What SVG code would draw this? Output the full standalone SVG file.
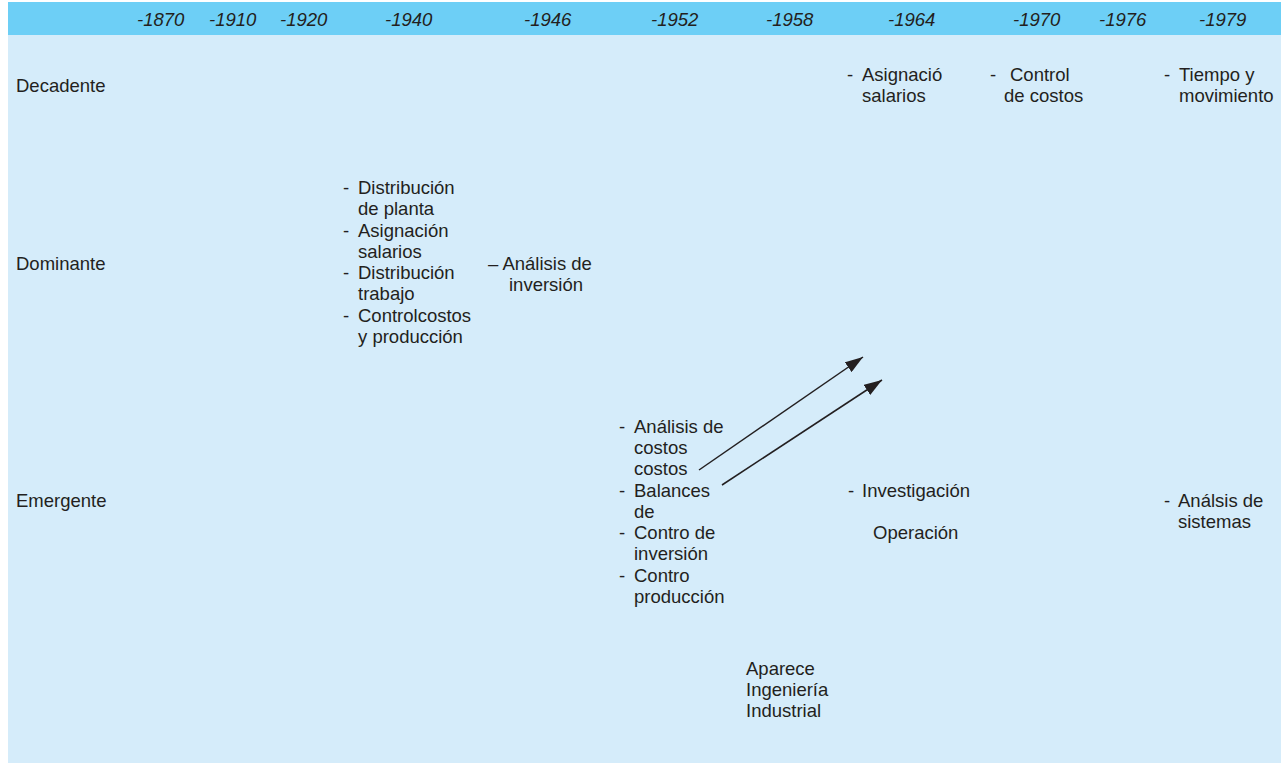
<svg xmlns="http://www.w3.org/2000/svg" width="1281" height="763" viewBox="0 0 1281 763">
<defs>
<style>
text{font-family:"Liberation Sans",Arial,sans-serif;font-size:18.5px;fill:#231f20}
.yr{font-style:italic}
.conn{stroke:#231f20;stroke-width:1.5;fill:none}
</style>
<marker id="ah" viewBox="0 0 10 10" refX="10" refY="5" markerWidth="18" markerHeight="12" markerUnits="userSpaceOnUse" orient="auto" preserveAspectRatio="none">
<path d="M0,0 L10,5 L0,10 Z" fill="#231f20"/>
</marker>
</defs>
<rect x="0" y="0" width="1281" height="763" fill="#ffffff"/>
<rect x="8" y="2" width="1273" height="761" fill="#d5ecfa"/>
<rect x="8" y="2" width="1273" height="33" fill="#6dcff6"/>
<g id="header">
<text class="yr" x="137" y="26">-1870</text>
<text class="yr" x="209" y="26">-1910</text>
<text class="yr" x="280" y="26">-1920</text>
<text class="yr" x="385" y="26">-1940</text>
<text class="yr" x="524" y="26">-1946</text>
<text class="yr" x="651" y="26">-1952</text>
<text class="yr" x="766" y="26">-1958</text>
<text class="yr" x="888" y="26">-1964</text>
<text class="yr" x="1013" y="26">-1970</text>
<text class="yr" x="1099" y="26">-1976</text>
<text class="yr" x="1199" y="26">-1979</text>
</g>
<g id="rows">
<text x="16" y="92">Decadente</text>
<text x="16" y="270">Dominante</text>
<text x="16" y="507">Emergente</text>
</g>
<g id="dec-1964">
<text x="847" y="81">-</text>
<text x="862" y="81">Asignació</text>
<text x="862" y="102">salarios</text>
</g>
<g id="dec-1970">
<text x="990" y="81">-</text>
<text x="1010" y="81">Control</text>
<text x="1004" y="102">de costos</text>
</g>
<g id="dec-1979">
<text x="1164" y="81">-</text>
<text x="1179" y="81">Tiempo y</text>
<text x="1179" y="102">movimiento</text>
</g>
<g id="dom-1940">
<text x="343" y="194">-</text>
<text x="358" y="194">Distribución</text>
<text x="358" y="215">de planta</text>
<text x="343" y="237">-</text>
<text x="358" y="237">Asignación</text>
<text x="358" y="258">salarios</text>
<text x="343" y="279">-</text>
<text x="358" y="279">Distribución</text>
<text x="358" y="300">trabajo</text>
<text x="343" y="322">-</text>
<text x="358" y="322">Controlcostos</text>
<text x="358" y="343">y producción</text>
</g>
<g id="dom-1946">
<text x="488" y="270">– Análisis de</text>
<text x="509" y="291">inversión</text>
</g>
<g id="eme-1952">
<text x="619" y="433">-</text>
<text x="634" y="433">Análisis de</text>
<text x="634" y="454">costos</text>
<text x="634" y="475">costos</text>
<text x="619" y="497">-</text>
<text x="634" y="497">Balances</text>
<text x="634" y="518">de</text>
<text x="619" y="539">-</text>
<text x="634" y="539">Contro de</text>
<text x="634" y="560">inversión</text>
<text x="619" y="582">-</text>
<text x="634" y="582">Contro</text>
<text x="634" y="603">producción</text>
</g>
<g id="eme-1964">
<text x="848" y="497">-</text>
<text x="862" y="497">Investigación</text>
<text x="873" y="539">Operación</text>
</g>
<g id="eme-1979">
<text x="1164" y="507">-</text>
<text x="1178" y="507">Análsis de</text>
<text x="1178" y="528">sistemas</text>
</g>
<g id="ing-1958">
<text x="746" y="675">Aparece</text>
<text x="746" y="696">Ingeniería</text>
<text x="746" y="717">Industrial</text>
</g>
<g id="connectors">
<line class="conn" x1="699" y1="470" x2="863" y2="357" marker-end="url(#ah)"/>
<line class="conn" x1="722" y1="485" x2="882" y2="380" marker-end="url(#ah)"/>
</g>
</svg>
